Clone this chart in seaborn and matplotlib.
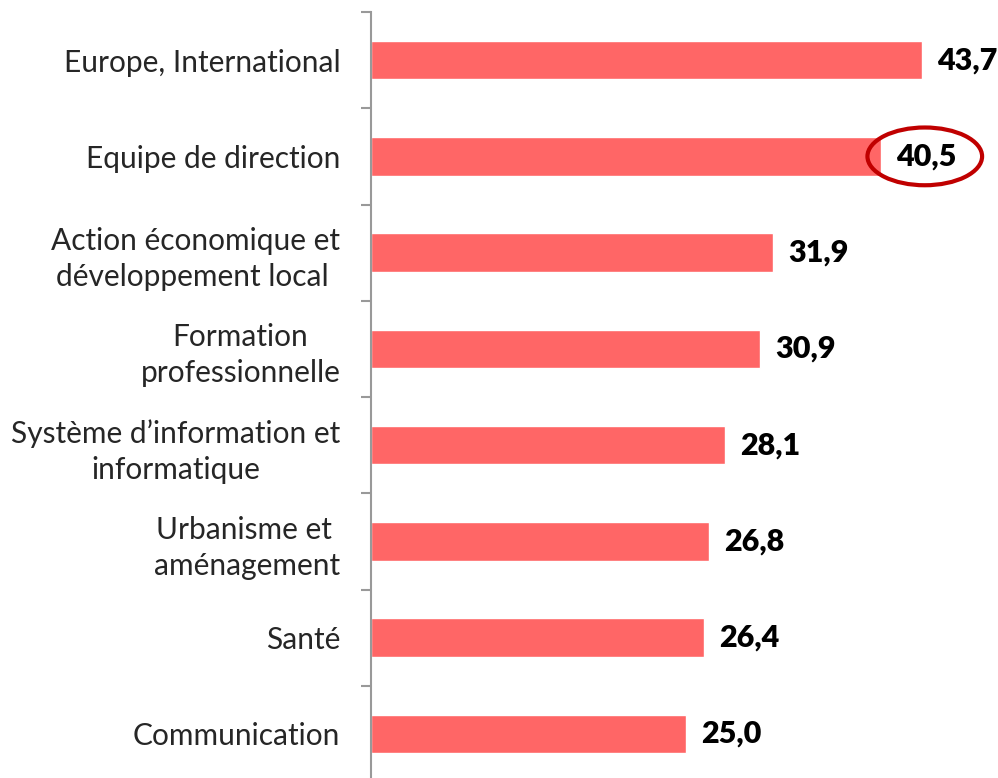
import matplotlib
matplotlib.use("Agg")
import matplotlib.pyplot as plt
import seaborn as sns
import numpy as np
from matplotlib.patches import Ellipse

categories = [
    "Europe, International",
    "Equipe de direction",
    "Action économique et\ndéveloppement local ",
    "Formation\nprofessionnelle",
    "Système d\u2019information et\ninformatique",
    "Urbanisme et \naménagement",
    "Santé",
    "Communication",
]
values = [43.7, 40.5, 31.9, 30.9, 28.1, 26.8, 26.4, 25.0]
value_labels = ["43,7", "40,5", "31,9", "30,9", "28,1", "26,8", "26,4", "25,0"]
highlight = "Equipe de direction"

sns.set_style("white")
plt.rcParams["font.family"] = ["Lato", "DejaVu Sans"]

fig = plt.figure(figsize=(9.98, 7.78), dpi=100)
ax = fig.add_axes([371/998, 1 - 782/778, 630/998, 770/778])

sns.barplot(x=values, y=categories, color="#FF6666", saturation=1, width=0.4,
            orient="h", ax=ax)

ax.set_xlim(0, 50)
ax.set_ylim(7.5, -0.5)
ax.set_xlabel("")
ax.set_ylabel("")
ax.set_xticks([])
for s in ["top", "right", "bottom"]:
    ax.spines[s].set_visible(False)
ax.spines["left"].set_color("#999999")
ax.spines["left"].set_linewidth(1.5)

ax.tick_params(axis="y", which="major", left=False, length=0, pad=22, labelsize=21.5)
ax.set_yticks(np.arange(-0.5, len(categories), 1.0), minor=True)
ax.tick_params(axis="y", which="minor", left=True, length=7.2, width=1.5,
               color="#999999", direction="out")
for lbl in ax.get_yticklabels():
    lbl.set_multialignment("center")
    lbl.set_linespacing(1.35)

for i, (v, t) in enumerate(zip(values, value_labels)):
    ax.annotate(t, xy=(v, i), xytext=(10.8, 0), textcoords="offset points",
                ha="left", va="center", fontsize=22, fontweight="heavy", color="black")

hi = categories.index(highlight)
ell = Ellipse((values[hi] + 3.45, hi), width=9.1, height=0.6, fill=False,
              edgecolor="#C00000", linewidth=3, clip_on=False, zorder=5)
ax.add_patch(ell)

fig.savefig("out.png", dpi=100)
